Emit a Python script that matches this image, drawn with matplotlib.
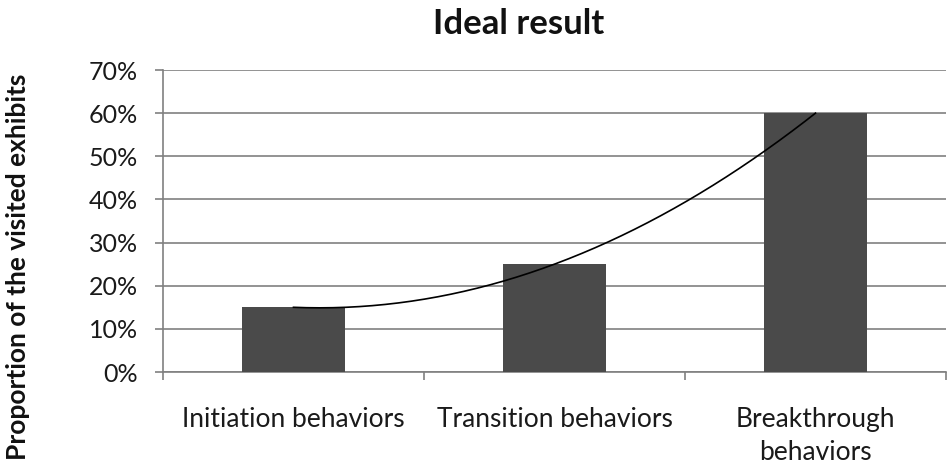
import matplotlib
matplotlib.use("Agg")
import matplotlib.pyplot as plt
import numpy as np
from matplotlib.ticker import FuncFormatter

categories = ["Initiation behaviors", "Transition behaviors", "Breakthrough\nbehaviors"]
values = [15, 25, 60]
yticks = [0, 10, 20, 30, 40, 50, 60, 70]

plt.rcParams['font.family'] = ['Lato', 'DejaVu Sans']

fig = plt.figure(figsize=(9.52, 4.63), dpi=100)
fig.patch.set_facecolor('white')
ax = fig.add_axes([0.1712, 0.1965, 0.8225, 0.6523])

x = np.arange(1, len(values) + 1)
ax.bar(x, values, width=0.395, color='#4a4a4a', zorder=3)

# polynomial (order 2) trendline through the data
coef = np.polyfit(x, values, 2)
xs = np.linspace(x[0], x[-1], 200)
ax.plot(xs, np.polyval(coef, xs), color='black', lw=1.2, zorder=4)

ax.set_xlim(0.5, 3.5)
ax.set_ylim(0, 70)
ax.set_yticks(yticks)
ax.yaxis.set_major_formatter(FuncFormatter(lambda v, p: f"{int(v)}%"))
ax.grid(axis='y', color='#808080', lw=1.2, zorder=0)
ax.set_xticks([0.5, 1.5, 2.5, 3.5])
ax.set_xticklabels([])
ax.set_xticks(x, minor=True)
ax.set_xticklabels(categories, minor=True, fontsize=19, color='#1a1a1a')
for t in ax.get_xminorticklabels():
    t.set_linespacing(1.4)
ax.tick_params(axis='x', which='major', length=6, color='#808080', width=1.2, direction='out')
ax.tick_params(axis='x', which='minor', length=0, pad=25)
ax.tick_params(axis='y', length=6, color='#808080', width=1.2, labelsize=18, labelcolor='#1a1a1a', pad=12)

for s in ['top', 'right']:
    ax.spines[s].set_visible(False)
for s in ['left', 'bottom']:
    ax.spines[s].set_color('#808080')
    ax.spines[s].set_linewidth(1.2)

fig.text(0.019, 0.423, "Proportion of the visited exhibits", rotation=90, ha='center', va='center',
         fontsize=19, fontweight='bold', color='#111111')
fig.text(0.545, 0.948, "Ideal result", ha='center', va='center', fontsize=25,
         fontweight='bold', color='#111111')

fig.savefig("out.png", dpi=100, facecolor='white')
